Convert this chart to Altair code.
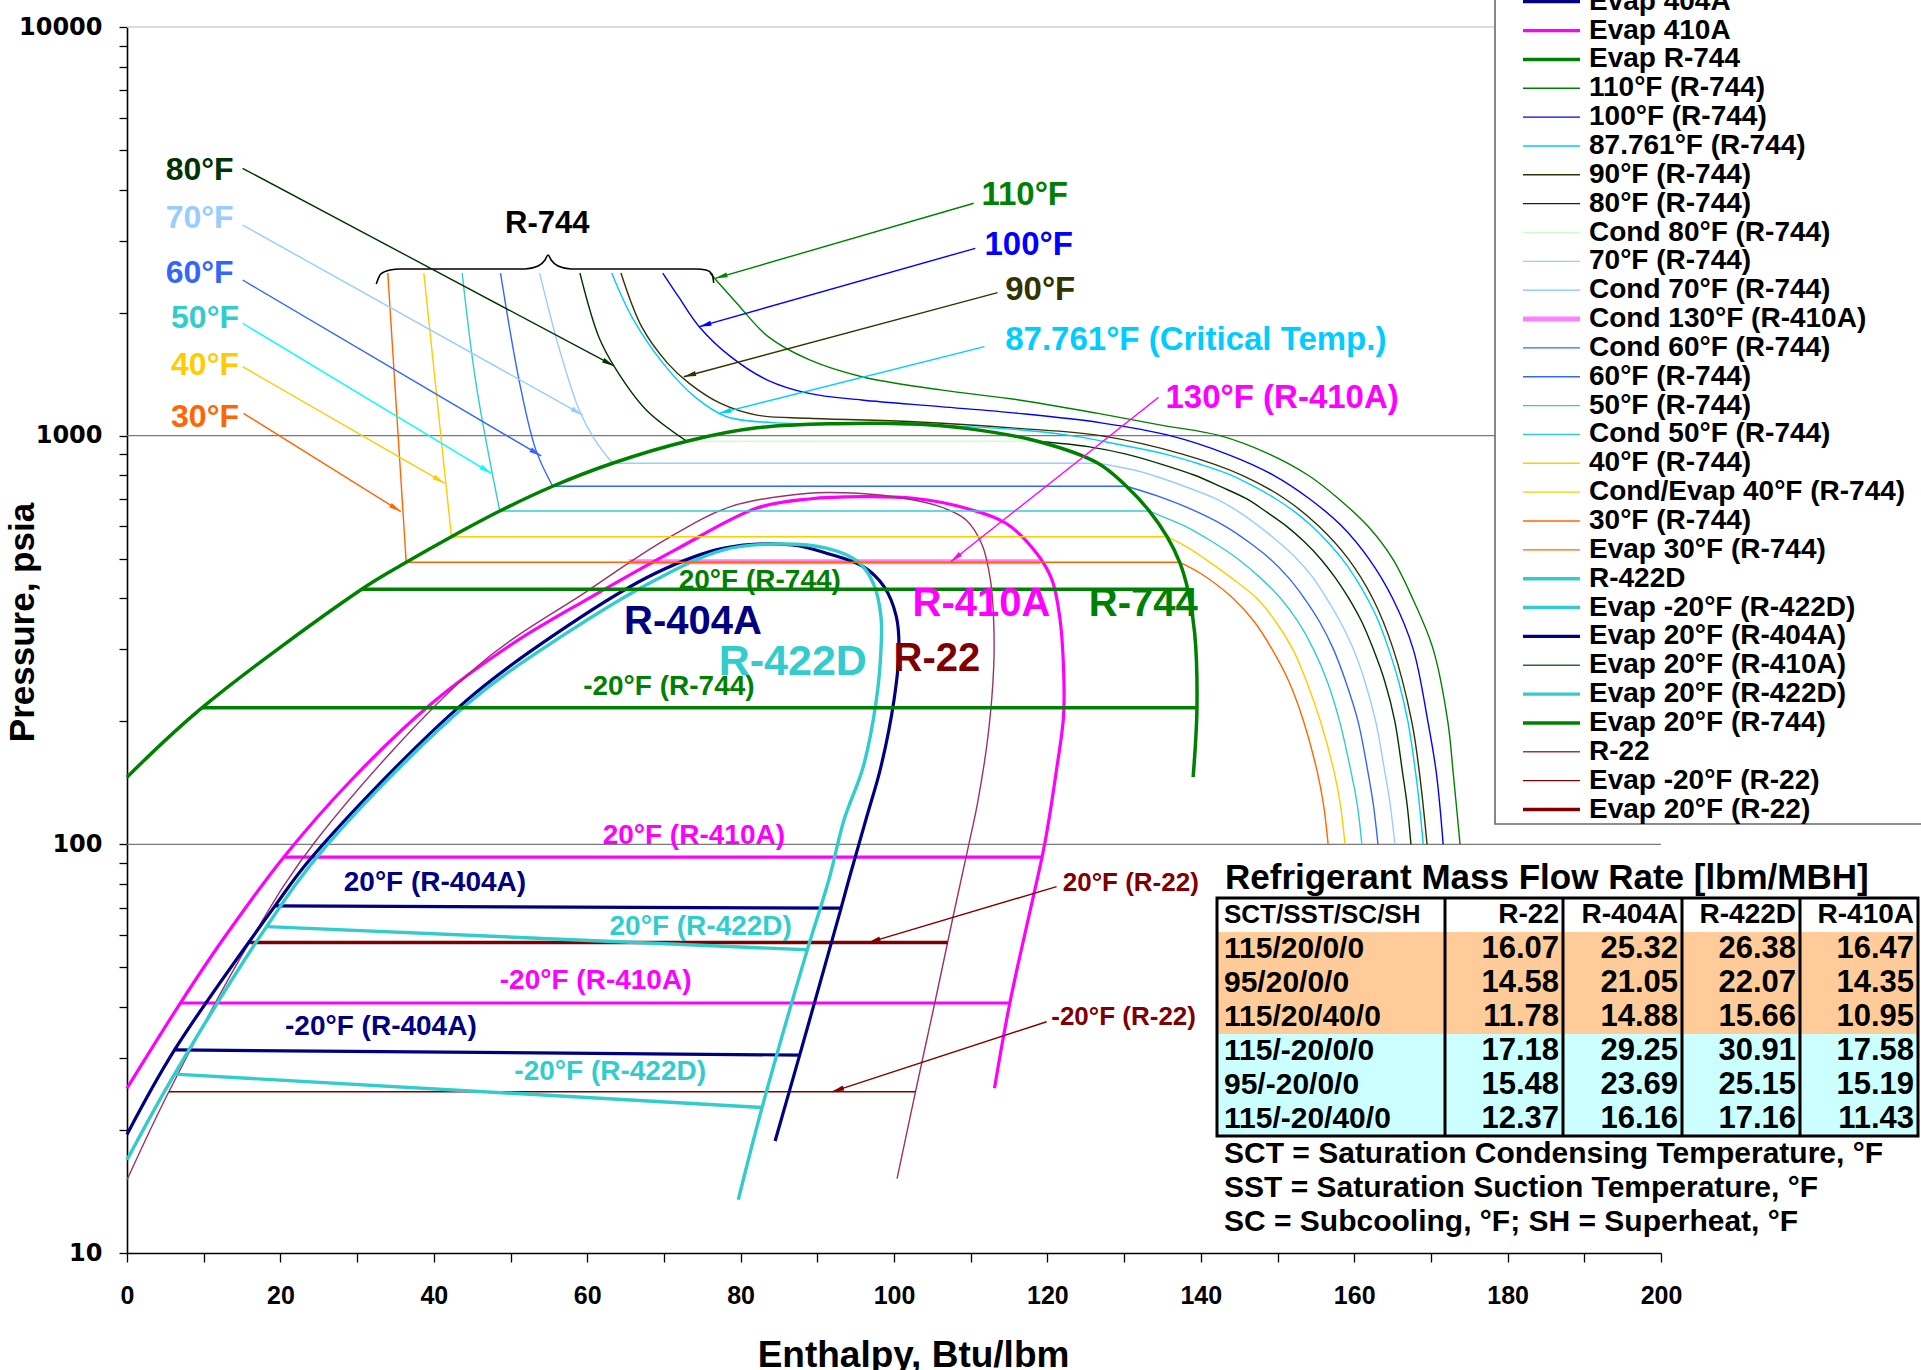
import math
import altair as alt
import pandas as pd

# ------------------------------------------------------------------
# Geometry / fonts
# ------------------------------------------------------------------
PLOT_W, PLOT_H = 1534, 1226
PAD = {"left": 127, "top": 27, "right": 260, "bottom": 117}
H_DOMAIN = [0, 200]
P_DOMAIN = [10, 10000]
SANS = "Liberation Sans, Arial, Helvetica, sans-serif"
WIDE = "DejaVu Sans, Verdana, sans-serif"

# ------------------------------------------------------------------
# Saturation domes  (enthalpy Btu/lbm, pressure psia)
# ------------------------------------------------------------------
R744_H = [0, 9.8, 30.6, 36.4, 42.3, 48.6, 55.5, 63.3, 73.0, 82.1, 92.4, 102.6, 109.4,
          118.7, 126.6, 130.3, 133.3, 135.6, 137.25, 138.3, 139.2, 139.5, 139.0]
R744_P = [146, 216, 421, 490, 566, 654, 752, 856, 969, 1045, 1070, 1068, 1042,
          969, 856, 752, 654, 566, 490, 421, 329, 216, 146]

R410A_H = [0, 6.96, 12.48, 20.43, 29.35, 39.83, 50.31, 60.21, 71.84, 82.13, 88.94, 95.76,
           102.58, 109.4, 114.6, 118.6, 120.6, 121.6, 122.1, 122.1, 121.25, 119.9, 119.3,
           115.1, 113.1]
R410A_P = [25.3, 40.9, 58.4, 93.0, 144.3, 222, 310, 400, 530, 665, 700, 709,
           702.8, 664.4, 610.5, 515.4, 443.6, 360.7, 272.1, 205.3, 155, 106.4, 93.0,
           40.9, 25.3]

R22_H = [0, 5.46, 15.95, 24.7, 45.6, 60.2, 70.1, 78.7, 88.9, 93.5, 99.9, 106.0, 109.4,
         111.5, 112.6, 113.0, 113.0, 112.3, 110.95, 109.6, 107.7, 105.4, 102.8, 100.4]
R22_P = [15.1, 24.8, 57.5, 102.5, 272, 419, 555, 670.5, 723, 725, 709, 670.5, 622,
         540, 440, 350, 272, 187, 128, 96.9, 66.5, 41.6, 24.8, 15.2]

R404A_H = [0, 6.2, 19.3, 24.1, 43.3, 57.3, 68.9, 77.7, 86.7, 91.3, 96.0, 98.7, 100.3,
           100.65, 100.0, 98.3, 96.4, 94.1, 93.1, 87.7, 84.5]
R404A_P = [19.5, 31.4, 70.7, 93.0, 217, 341, 460.7, 530, 540, 515, 478, 427, 361,
           299, 225.6, 155, 116, 81.8, 69.8, 30.5, 18.8]

R422D_H = [0, 6.2, 18.2, 25.9, 44.5, 57.3, 68.9, 77.7, 84.7, 91.3, 95.3, 97.3, 98.3,
           98.3, 97.7, 96.0, 93.5, 91.5, 88.7, 82.8, 79.7]
R422D_P = [16.9, 27.4, 62.9, 98.7, 221.4, 328.6, 443.6, 525, 543, 530, 491.6, 435.4, 361,
           299, 225.6, 155, 115, 81.8, 55.2, 22.7, 13.5]

# ------------------------------------------------------------------
# Evaporating / condensing lines (start and end points)
# ------------------------------------------------------------------
COND130_R410A_H = [65.4, 119.0]
COND130_R410A_P = [491.6, 491.6]
EVAP20_R410A_H = [20.43, 119.3]
EVAP20_R410A_P = [93.0, 93.0]
EVAPM20_R410A_H = [6.96, 115.1]
EVAPM20_R410A_P = [40.9, 40.9]
EVAP20_R22_H = [15.95, 107.0]
EVAP20_R22_P = [57.5, 57.5]
EVAPM20_R22_H = [5.46, 102.8]
EVAPM20_R22_P = [24.8, 24.8]
EVAP20_R404A_H = [19.3, 93.1]
EVAP20_R404A_P = [70.7, 69.8]
EVAPM20_R404A_H = [6.2, 87.7]
EVAPM20_R404A_P = [31.4, 30.5]
EVAP20_R422D_H = [18.2, 88.7]
EVAP20_R422D_P = [62.9, 55.2]
EVAPM20_R422D_H = [6.2, 82.8]
EVAPM20_R422D_P = [27.4, 22.7]
EVAP20_R744_H = [30.6, 138.3]
EVAP20_R744_P = [421, 421]
EVAPM20_R744_H = [9.8, 139.5]
EVAPM20_R744_P = [216, 216]
COND80_R744_H = [73.0, 118.7]
COND80_R744_P = [969, 969]
COND70_R744_H = [63.3, 126.6]
COND70_R744_P = [856, 856]
COND60_R744_H = [55.5, 130.3]
COND60_R744_P = [752, 752]
COND50_R744_H = [48.6, 133.3]
COND50_R744_P = [654, 654]
COND40_R744_H = [42.3, 135.6]
COND40_R744_P = [566, 566]
EVAP30_R744_H = [36.4, 137.25]
EVAP30_R744_P = [490, 490]

# ------------------------------------------------------------------
# R-744 isotherms: dense-liquid branch and vapour branch
# ------------------------------------------------------------------
ISO30_LIQ_H = [34.0, 36.4]
ISO30_LIQ_P = [2500, 490]
ISO30_VAP_H = [137.25, 140.0, 144.2, 147.0, 149.3, 151.5, 153.4, 155.2, 156.0, 156.6]
ISO30_VAP_P = [490, 460, 400, 350, 300, 250, 200, 150, 125, 100]

ISO40_LIQ_H = [38.7, 42.3]
ISO40_LIQ_P = [2500, 566]
ISO40_VAP_H = [135.6, 138.5, 140.5, 143.9, 147.3, 149.8, 152.0, 153.8, 155.6, 157.4, 158.2, 158.8]
ISO40_VAP_P = [566, 530, 500, 450, 400, 350, 300, 250, 200, 150, 125, 100]

ISO50_LIQ_H = [43.7, 45.5, 48.6]
ISO50_LIQ_P = [2500, 1343, 654]
ISO50_VAP_H = [133.3, 136.6, 138.0, 141.5, 144.8, 147.7, 150.4, 152.7, 154.7, 156.5, 158.1,
               159.6, 160.4, 161.0]
ISO50_VAP_P = [654, 616, 600, 550, 500, 450, 400, 350, 300, 250, 200, 150, 125, 100]

ISO60_LIQ_H = [48.7, 51.2, 53.3, 55.5]
ISO60_LIQ_P = [2500, 1343, 923, 752]
ISO60_VAP_H = [130.3, 134.6, 139.6, 143.2, 146.2, 149.0, 151.4, 153.5, 155.5, 157.3, 158.9,
               160.5, 161.8, 162.5, 163.1]
ISO60_VAP_P = [752, 709, 650, 600, 550, 500, 450, 400, 350, 300, 250, 200, 150, 125, 100]

ISO70_LIQ_H = [53.8, 56.4, 58.95, 61.0, 63.3]
ISO70_LIQ_P = [2500, 1621, 1156, 976, 856]
ISO70_VAP_H = [126.6, 131.3, 133.7, 138.0, 142.0, 145.0, 147.6, 150.1, 152.5, 154.6, 156.4,
               158.2, 159.9, 161.4, 162.8, 164.0, 164.7, 165.3]
ISO70_VAP_P = [856, 824, 800, 750, 700, 650, 600, 550, 500, 450, 400, 350, 300, 250, 200,
               150, 125, 100]

ISO80_LIQ_H = [59.05, 61.5, 63.8, 67.7, 73.0]
ISO80_LIQ_P = [2500, 1747, 1449, 1156, 969]
ISO80_VAP_H = [118.7, 125.3, 130.4, 135.0, 139.2, 142.6, 146.0, 148.6, 151.2, 153.5, 155.6,
               157.5, 159.3, 161.0, 162.5, 164.0, 165.3, 166.3, 166.9, 167.4]
ISO80_VAP_P = [969, 940, 900, 850, 800, 750, 700, 650, 600, 550, 500, 450, 400, 350, 300,
               250, 200, 150, 125, 100]

ISO87_H = [63.2, 65.8, 69.9, 74.0, 78.1, 84.2, 95.8, 109.5, 116.0, 123.1, 129.5, 135.5, 140.0,
           144.0, 147.0, 149.8, 152.3, 154.5, 156.5, 158.4, 160.1, 161.7, 163.2, 164.5, 165.8,
           167.0, 168.0, 168.5, 169.0]
ISO87_P = [2500, 1956, 1503, 1246, 1114, 1076, 1069, 1052, 1035, 1000, 950, 900, 850,
           800, 750, 700, 650, 600, 550, 500, 450, 400, 350, 300, 250,
           200, 150, 125, 100]

ISO90_H = [64.4, 67.1, 70.5, 73.3, 77.4, 82.1, 88.9, 102.6, 116.2, 126.9, 137.7, 145.4, 151.0,
           155.4, 159.2, 162.4, 165.1, 167.5, 168.5, 169.5]
ISO90_P = [2500, 1848, 1503, 1343, 1199, 1123, 1103, 1082, 1042, 1000, 900, 800, 700,
           600, 500, 400, 300, 200, 150, 100]

ISO100_H = [69.85, 71.9, 74.6, 78.7, 83.5, 88.9, 95.8, 106.0, 116.2, 127.0, 136.0, 143.5, 149.5,
            154.2, 158.4, 161.9, 165.0, 167.7, 169.6, 170.7, 171.6]
ISO100_P = [2500, 2188, 1848, 1561, 1368, 1269, 1223, 1178, 1134, 1075, 1000, 900, 800,
            700, 600, 500, 400, 300, 200, 150, 100]

ISO110_H = [76.0, 79.5, 83.6, 89.0, 95.8, 106.1, 116.3, 126.6, 135.0, 142.5, 149.0, 154.0,
            158.0, 161.8, 165.0, 167.6, 170.3, 172.2, 172.9, 173.8]
ISO110_P = [2500, 2109, 1747, 1532, 1394, 1294, 1223, 1134, 1060, 1000, 900, 800,
            700, 600, 500, 400, 300, 200, 150, 100]

# brace grouping the R-744 isotherm tops
BRACE_H = [32.5, 33.1, 34.3, 35.6, 51.9, 53.6, 54.5, 54.9, 55.3, 56.2, 57.9, 74.2, 75.5, 76.3, 76.5]
BRACE_P = [2351, 2487, 2543, 2558, 2558, 2601, 2690, 2768, 2690, 2601, 2558, 2558, 2543, 2480, 2364]

# ------------------------------------------------------------------
# Series styling (colour, line width) and legend order
# ------------------------------------------------------------------
STYLE = {
    "R-404A": ("#000080", 3.2),
    "R-410A": ("#ff00ff", 3.2),
    "Evap -20°F (R-410A)": ("#ff00ff", 3.0),
    "R-744": ("#008000", 3.5),
    "Evap 404A": ("#000080", 3.2),
    "Evap 410A": ("#ff00ff", 3.2),
    "Evap R-744": ("#008000", 3.5),
    "110°F (R-744)": ("#008000", 1.4),
    "100°F (R-744)": ("#0000ff", 1.4),
    "87.761°F (R-744)": ("#00ccff", 1.4),
    "90°F (R-744)": ("#333300", 1.4),
    "80°F (R-744)": ("#003300", 1.4),
    "Cond 80°F (R-744)": ("#ccffcc", 1.4),
    "70°F (R-744)": ("#99ccff", 1.4),
    "Cond 70°F (R-744)": ("#99ccff", 1.4),
    "Cond 130°F (R-410A)": ("#ff80ff", 5.0),
    "Cond 60°F (R-744)": ("#3366ff", 1.4),
    "60°F (R-744)": ("#3366ff", 1.4),
    "50°F (R-744)": ("#33cccc", 1.4),
    "Cond 50°F (R-744)": ("#33cccc", 1.4),
    "40°F (R-744)": ("#ffcc00", 1.4),
    "Cond/Evap 40°F (R-744)": ("#ffcc00", 1.4),
    "30°F (R-744)": ("#ff6600", 1.4),
    "Evap 30°F (R-744)": ("#ff6600", 1.4),
    "R-422D": ("#33cccc", 3.4),
    "Evap -20°F (R-422D)": ("#33cccc", 3.4),
    "Evap 20°F (R-404A)": ("#000080", 3.2),
    "Evap 20°F (R-410A)": ("#336633", 1.4),
    "Evap 20°F (R-422D)": ("#33cccc", 3.4),
    "Evap 20°F (R-744)": ("#008000", 3.5),
    "R-22": ("#993366", 1.4),
    "Evap -20°F (R-22)": ("#800000", 1.4),
    "Evap 20°F (R-22)": ("#800000", 3.4),
}
LEGEND_ORDER = list(STYLE.keys())

# ------------------------------------------------------------------
# Annotations
# ------------------------------------------------------------------
TEMP_LABELS_L = ["80°F", "70°F", "60°F", "50°F", "40°F", "30°F"]
TEMP_LABELS_L_H = [13.9, 13.9, 13.9, 14.6, 14.6, 14.6]
TEMP_LABELS_L_P = [4460, 3405, 2497, 1937, 1489, 1113]

TEMP_LABELS_R = ["110°F", "100°F", "90°F", "87.761°F (Critical Temp.)", "130°F (R-410A)"]
TEMP_LABELS_R_H = [111.4, 111.8, 114.5, 114.5, 135.4]
TEMP_LABELS_R_P = [3882, 2929, 2273, 1715, 1235]

R22_LABELS = ["20°F (R-22)", "-20°F (R-22)"]
R22_LABELS_H = [122.0, 120.5]
R22_LABELS_P = [80.4, 37.9]

NAME_LABELS = ["R-404A", "R-422D", "R-410A", "R-744", "R-22"]
NAME_LABELS_H = [73.8, 86.8, 111.4, 132.5, 105.6]
NAME_LABELS_P = [349, 280, 388, 388, 284]
NAME_LABEL_SIZES = [40, 43, 40, 40, 40]

LINE_LABELS = ["20°F (R-744)", "-20°F (R-744)", "20°F (R-410A)", "20°F (R-404A)",
               "20°F (R-422D)", "-20°F (R-410A)", "-20°F (R-404A)", "-20°F (R-422D)"]
LINE_LABELS_H = [82.5, 70.65, 73.9, 40.15, 74.8, 61.1, 33.1, 63.0]
LINE_LABELS_P = [442, 242, 105, 80.3, 62.7, 46.2, 35.8, 27.7]

BRACE_LABEL_H, BRACE_LABEL_P = 54.8, 3292

# leader arrows: start (h, P) -> tip (h, P)
ARROW_H0 = [15.07, 15.07, 15.07, 15.07, 15.07, 15.18, 110.4, 110.6, 113.5, 111.8, 134.5, 121.2, 119.9]
ARROW_P0 = [4511, 3277, 2404, 1884, 1475, 1134, 3704, 2874, 2239, 1651, 1242, 78.8, 36.8]
ARROW_H1 = [63.5, 59.4, 54.0, 47.5, 41.4, 35.7, 76.7, 74.6, 72.6, 77.2, 107.4, 96.65, 91.9]
ARROW_P1 = [1481, 1124, 892, 809, 765, 652, 2427, 1848, 1394, 1134, 491.6, 57.5, 24.8]
ARROW_COLORS = ["#003300", "#99ccff", "#3366ff", "#00ffff", "#ffcc00", "#ff6600", "#008000",
                "#0000ff", "#333300", "#00ccff", "#ff00ff", "#800000", "#800000"]

LABEL_COLORS = {
    "80°F": "#003300", "70°F": "#99ccff", "60°F": "#3366ff", "50°F": "#33cccc",
    "40°F": "#ffcc00", "30°F": "#ff6600", "110°F": "#008000", "100°F": "#0000ff",
    "90°F": "#333300", "87.761°F (Critical Temp.)": "#00ccff", "130°F (R-410A)": "#ff00ff",
    "20°F (R-22)": "#800000", "-20°F (R-22)": "#800000",
    "R-404A": "#000080", "R-422D": "#33cccc", "R-410A": "#ff00ff", "R-744": "#008000",
    "R-22": "#800000",
    "20°F (R-744)": "#008000", "-20°F (R-744)": "#008000", "20°F (R-410A)": "#ff00ff",
    "20°F (R-404A)": "#000080", "20°F (R-422D)": "#33cccc", "-20°F (R-410A)": "#ff00ff",
    "-20°F (R-404A)": "#000080", "-20°F (R-422D)": "#33cccc",
}

# ------------------------------------------------------------------
# Mass-flow table
# ------------------------------------------------------------------
TABLE_TITLE = "Refrigerant Mass Flow Rate [lbm/MBH]"
TABLE_HEAD = "SCT/SST/SC/SH"
TABLE_CONDITIONS = ["115/20/0/0", "95/20/0/0", "115/20/40/0",
                    "115/-20/0/0", "95/-20/0/0", "115/-20/40/0"]
TABLE_REFRIGERANTS = ["R-22", "R-404A", "R-422D", "R-410A"]
FLOW_R22 = [16.07, 14.58, 11.78, 17.18, 15.48, 12.37]
FLOW_R404A = [25.32, 21.05, 14.88, 29.25, 23.69, 16.16]
FLOW_R422D = [26.38, 22.07, 15.66, 30.91, 25.15, 17.16]
FLOW_R410A = [16.47, 14.35, 10.95, 17.58, 15.19, 11.43]
FOOTNOTES = ["SCT = Saturation Condensing Temperature, °F",
             "SST = Saturation Suction Temperature, °F",
             "SC = Subcooling, °F;  SH = Superheat, °F"]

# ------------------------------------------------------------------
# Build the line table
# ------------------------------------------------------------------
rows = []


def add_path(series, key, hs, ps):
    for i, (h, p) in enumerate(zip(hs, ps)):
        rows.append({"series": series, "key": key, "i": i, "h": h, "P": p})


add_path("Cond 130°F (R-410A)", "cond130", COND130_R410A_H, COND130_R410A_P)
add_path("R-410A", "dome410", R410A_H, R410A_P)
add_path("Evap 410A", "e20_410", EVAP20_R410A_H, EVAP20_R410A_P)
add_path("Evap -20°F (R-410A)", "em20_410", EVAPM20_R410A_H, EVAPM20_R410A_P)
add_path("R-22", "dome22", R22_H, R22_P)
add_path("Evap 20°F (R-22)", "e20_22", EVAP20_R22_H, EVAP20_R22_P)
add_path("Evap -20°F (R-22)", "em20_22", EVAPM20_R22_H, EVAPM20_R22_P)
add_path("R-404A", "dome404", R404A_H, R404A_P)
add_path("Evap 20°F (R-404A)", "e20_404", EVAP20_R404A_H, EVAP20_R404A_P)
add_path("Evap 404A", "em20_404", EVAPM20_R404A_H, EVAPM20_R404A_P)
add_path("R-422D", "dome422", R422D_H, R422D_P)
add_path("Evap 20°F (R-422D)", "e20_422", EVAP20_R422D_H, EVAP20_R422D_P)
add_path("Evap -20°F (R-422D)", "em20_422", EVAPM20_R422D_H, EVAPM20_R422D_P)
add_path("Cond 80°F (R-744)", "c80", COND80_R744_H, COND80_R744_P)
add_path("Cond 70°F (R-744)", "c70", COND70_R744_H, COND70_R744_P)
add_path("Cond 60°F (R-744)", "c60", COND60_R744_H, COND60_R744_P)
add_path("Cond 50°F (R-744)", "c50", COND50_R744_H, COND50_R744_P)
add_path("Cond/Evap 40°F (R-744)", "c40", COND40_R744_H, COND40_R744_P)
add_path("Evap 30°F (R-744)", "c30", EVAP30_R744_H, EVAP30_R744_P)
add_path("Evap 20°F (R-744)", "e20_744", EVAP20_R744_H, EVAP20_R744_P)
add_path("Evap R-744", "em20_744", EVAPM20_R744_H, EVAPM20_R744_P)
add_path("110°F (R-744)", "t110", ISO110_H, ISO110_P)
add_path("100°F (R-744)", "t100", ISO100_H, ISO100_P)
add_path("90°F (R-744)", "t90", ISO90_H, ISO90_P)
add_path("87.761°F (R-744)", "t87", ISO87_H, ISO87_P)
add_path("80°F (R-744)", "t80l", ISO80_LIQ_H, ISO80_LIQ_P)
add_path("80°F (R-744)", "t80v", ISO80_VAP_H, ISO80_VAP_P)
add_path("70°F (R-744)", "t70l", ISO70_LIQ_H, ISO70_LIQ_P)
add_path("70°F (R-744)", "t70v", ISO70_VAP_H, ISO70_VAP_P)
add_path("60°F (R-744)", "t60l", ISO60_LIQ_H, ISO60_LIQ_P)
add_path("60°F (R-744)", "t60v", ISO60_VAP_H, ISO60_VAP_P)
add_path("50°F (R-744)", "t50l", ISO50_LIQ_H, ISO50_LIQ_P)
add_path("50°F (R-744)", "t50v", ISO50_VAP_H, ISO50_VAP_P)
add_path("40°F (R-744)", "t40l", ISO40_LIQ_H, ISO40_LIQ_P)
add_path("40°F (R-744)", "t40v", ISO40_VAP_H, ISO40_VAP_P)
add_path("30°F (R-744)", "t30l", ISO30_LIQ_H, ISO30_LIQ_P)
add_path("30°F (R-744)", "t30v", ISO30_VAP_H, ISO30_VAP_P)
add_path("R-744", "dome744", R744_H, R744_P)

lines_df = pd.DataFrame(rows)
lines_df["color"] = lines_df["series"].map(lambda s: STYLE[s][0])
lines_df["w"] = lines_df["series"].map(lambda s: STYLE[s][1])

# ------------------------------------------------------------------
# Shared scales and axes
# ------------------------------------------------------------------
X_AXIS = alt.Axis(
    values=list(range(0, 201, 10)),
    labelExpr="datum.value % 20 === 0 ? datum.label : ''",
    format="d", grid=False, tickSize=9, tickWidth=1.3, tickColor="black",
    domainColor="black", domainWidth=1.6, labelFont=SANS, labelFontWeight="bold",
    labelFontSize=25, labelColor="black", labelPadding=21, labelOverlap=False,
    labelFlush=False, labelBound=False,
    title="Enthalpy, Btu/lbm", titleFont=SANS, titleFontWeight="bold", titleFontSize=37,
    titleColor="black", titleX=786, titleY=102, titleBaseline="middle", titleAlign="center",
)
Y_TICKS = [d * 10 ** e for e in range(1, 4) for d in range(1, 10)] + [10000]
Y_AXIS = alt.Axis(
    values=Y_TICKS,
    labelExpr="indexof([10, 100, 1000, 10000], datum.value) >= 0 ? datum.label : ''",
    format="d", grid=False, tickSize=8, tickWidth=1.3, tickColor="black",
    domainColor="black", domainWidth=1.6, labelFont=WIDE, labelFontWeight="bold",
    labelFontSize=24, labelColor="black", labelPadding=17, labelOverlap=False,
    labelFlush=False, labelBound=False,
    title="Pressure, psia", titleFont=SANS, titleFontWeight="bold", titleFontSize=35,
    titleColor="black", titleAngle=270, titleX=-105, titleY=595,
    titleBaseline="middle", titleAlign="center",
)
X = alt.X("h:Q", scale=alt.Scale(domain=H_DOMAIN, nice=False, zero=False), axis=X_AXIS)
Y = alt.Y("P:Q", scale=alt.Scale(type="log", domain=P_DOMAIN, nice=False), axis=Y_AXIS)
C_ID = alt.Color("color:N", scale=None)

# ------------------------------------------------------------------
# Plot layers
# ------------------------------------------------------------------
grid_df = pd.DataFrame({"P": [100, 1000, 10000], "color": ["#7a7a7a", "#7a7a7a", "#d0d0d0"]})
grid = alt.Chart(grid_df).mark_rule(strokeWidth=1.3).encode(y=Y, color=C_ID)

curves = alt.Chart(lines_df).mark_line(interpolate="catmull-rom").encode(
    x=X, y=Y, color=C_ID,
    strokeWidth=alt.StrokeWidth("w:Q", scale=None),
    detail="key:N", order="i:Q",
)

brace_df = pd.DataFrame({"h": BRACE_H, "P": BRACE_P})
brace = alt.Chart(brace_df).mark_line(interpolate="monotone", color="black", strokeWidth=1.6).encode(
    x=X, y=Y)

PX_PER_H = PLOT_W / (H_DOMAIN[1] - H_DOMAIN[0])
PX_PER_DECADE = PLOT_H / 3.0


def head_angle(h0, p0, h1, p1):
    dx = (h1 - h0) * PX_PER_H
    dy = -(math.log10(p1) - math.log10(p0)) * PX_PER_DECADE
    return math.degrees(math.atan2(dx, -dy)) % 360


arrow_df = pd.DataFrame({"h": ARROW_H0, "P": ARROW_P0, "h2": ARROW_H1, "P2": ARROW_P1,
                         "color": ARROW_COLORS})
arrows = alt.Chart(arrow_df).mark_rule(strokeWidth=1.4).encode(
    x=X, y=Y, x2="h2:Q", y2="P2:Q", color=C_ID)

head_df = pd.DataFrame({
    "h": ARROW_H1, "P": ARROW_P1, "color": ARROW_COLORS,
    "ang": [head_angle(a, b, c, d) for a, b, c, d in zip(ARROW_H0, ARROW_P0, ARROW_H1, ARROW_P1)],
})
heads = alt.Chart(head_df).mark_point(
    shape="M0,0L0.42,2L-0.42,2Z", filled=True, size=150, opacity=1, strokeWidth=0
).encode(x=X, y=Y, color=C_ID, angle=alt.Angle("ang:Q", scale=None))


def label_frame(texts, hs, ps, sizes, colors=None):
    return pd.DataFrame({"t": texts, "h": hs, "P": ps, "fs": sizes,
                         "color": colors or [LABEL_COLORS[t] for t in texts]})


def text_layer(df, align):
    return alt.Chart(df).mark_text(
        font=SANS, fontWeight="bold", align=align, baseline="middle"
    ).encode(x=X, y=Y, text="t:N", color=C_ID, size=alt.Size("fs:Q", scale=None))


t_left_temps = text_layer(label_frame(TEMP_LABELS_L, TEMP_LABELS_L_H, TEMP_LABELS_L_P,
                                      [32] * 6), "right")
t_right_temps = text_layer(label_frame(TEMP_LABELS_R, TEMP_LABELS_R_H, TEMP_LABELS_R_P,
                                       [33] * 5), "left")
t_r22 = text_layer(label_frame(R22_LABELS, R22_LABELS_H, R22_LABELS_P, [26] * 2), "left")
t_names = text_layer(label_frame(NAME_LABELS, NAME_LABELS_H, NAME_LABELS_P, NAME_LABEL_SIZES),
                     "center")
t_lines = text_layer(label_frame(LINE_LABELS, LINE_LABELS_H, LINE_LABELS_P, [28] * 8), "center")
t_brace = text_layer(label_frame(["R-744"], [BRACE_LABEL_H], [BRACE_LABEL_P], [31], ["black"]),
                     "center")

# ------------------------------------------------------------------
# Overlays placed in screen space: the mass-flow table and the legend
# ------------------------------------------------------------------
XI = alt.X("px:Q", scale=None, axis=None)
YI = alt.Y("py:Q", scale=None, axis=None)

# table layout (pixels, relative to the plot area)
TBL_COL_EDGES = [1090, 1318, 1436, 1555, 1673, 1791]
TBL_TOP, TBL_HEAD_H, TBL_ROW_H = 871, 34, 34
TBL_TEXT_INSET = 7
TBL_TITLE_Y = 851
TBL_NOTE_Y0, TBL_NOTE_STEP = 1127, 34

row_y = [TBL_TOP + TBL_HEAD_H + TBL_ROW_H * (k + 0.5) for k in range(6)]
head_y = TBL_TOP + TBL_HEAD_H / 2
tbl_bottom = TBL_TOP + TBL_HEAD_H + 6 * TBL_ROW_H
mid_split = TBL_TOP + TBL_HEAD_H + 3 * TBL_ROW_H

bg_df = pd.DataFrame({
    "px": [TBL_COL_EDGES[0]] * 2, "px2": [TBL_COL_EDGES[-1]] * 2,
    "py": [TBL_TOP + TBL_HEAD_H, mid_split], "py2": [mid_split, tbl_bottom],
    "color": ["#ffcc99", "#ccffff"],
})
table_bg = alt.Chart(bg_df).mark_rect().encode(
    x=XI, x2="px2:Q", y=YI, y2="py2:Q", color=C_ID)

frame_df = pd.DataFrame({"px": [TBL_COL_EDGES[0]], "px2": [TBL_COL_EDGES[-1]],
                         "py": [TBL_TOP], "py2": [tbl_bottom]})
table_frame = alt.Chart(frame_df).mark_rect(
    fillOpacity=0, stroke="black", strokeWidth=3).encode(x=XI, x2="px2:Q", y=YI, y2="py2:Q")

div_df = pd.DataFrame({"px": TBL_COL_EDGES[1:-1], "py": [TBL_TOP] * 4, "py2": [tbl_bottom] * 4})
table_divs = alt.Chart(div_df).mark_rule(color="black", strokeWidth=3).encode(
    x=XI, y=YI, y2="py2:Q")

left_df = pd.DataFrame({
    "t": [TABLE_HEAD] + TABLE_CONDITIONS,
    "px": [TBL_COL_EDGES[0] + TBL_TEXT_INSET] * 7,
    "py": [head_y] + row_y,
    "fs": [26] + [30] * 6,
})
flows = [FLOW_R22, FLOW_R404A, FLOW_R422D, FLOW_R410A]
num_rows = []
for c, (name, vals) in enumerate(zip(TABLE_REFRIGERANTS, flows)):
    x_right = TBL_COL_EDGES[c + 2] - 4
    num_rows.append({"t": name, "px": x_right, "py": head_y, "fs": 28})
    for r, v in enumerate(vals):
        num_rows.append({"t": f"{v:.2f}", "px": x_right, "py": row_y[r], "fs": 31})
num_df = pd.DataFrame(num_rows)

table_left_text = alt.Chart(left_df).mark_text(
    font=SANS, fontWeight="bold", align="left", baseline="middle", color="black"
).encode(x=XI, y=YI, text="t:N", size=alt.Size("fs:Q", scale=None))
table_num_text = alt.Chart(num_df).mark_text(
    font=SANS, fontWeight="bold", align="right", baseline="middle", color="black"
).encode(x=XI, y=YI, text="t:N", size=alt.Size("fs:Q", scale=None))

title_df = pd.DataFrame({"t": [TABLE_TITLE], "px": [TBL_COL_EDGES[0] + 8], "py": [TBL_TITLE_Y]})
table_title = alt.Chart(title_df).mark_text(
    font=SANS, fontWeight="bold", fontSize=35, align="left", baseline="middle", color="black"
).encode(x=XI, y=YI, text="t:N")

note_df = pd.DataFrame({
    "t": FOOTNOTES,
    "px": [TBL_COL_EDGES[0] + TBL_TEXT_INSET] * 3,
    "py": [TBL_NOTE_Y0 + k * TBL_NOTE_STEP for k in range(3)],
})
table_notes = alt.Chart(note_df).mark_text(
    font=SANS, fontWeight="bold", fontSize=30, align="left", baseline="middle", color="black"
).encode(x=XI, y=YI, text="t:N")

# legend panel (its upper entries run off the top edge)
LEG_LEFT, LEG_RIGHT, LEG_BOTTOM = 1368, 1810, 797
LEG_ROW0_Y, LEG_ROW_STEP = -140.7, 28.85
LEG_SYM_X0, LEG_SYM_X1, LEG_TEXT_X = 1396, 1453, 1462

leg_box_df = pd.DataFrame({"px": [LEG_LEFT], "px2": [LEG_RIGHT], "py": [-200], "py2": [LEG_BOTTOM]})
legend_box = alt.Chart(leg_box_df).mark_rect(
    fill="white", stroke="#6a6a6a", strokeWidth=1.6).encode(x=XI, x2="px2:Q", y=YI, y2="py2:Q")

leg_df = pd.DataFrame({
    "t": LEGEND_ORDER,
    "px": [LEG_SYM_X0] * len(LEGEND_ORDER),
    "px2": [LEG_SYM_X1] * len(LEGEND_ORDER),
    "tx": [LEG_TEXT_X] * len(LEGEND_ORDER),
    "py": [LEG_ROW0_Y + k * LEG_ROW_STEP for k in range(len(LEGEND_ORDER))],
    "color": [STYLE[s][0] for s in LEGEND_ORDER],
    "w": [STYLE[s][1] for s in LEGEND_ORDER],
})
legend_syms = alt.Chart(leg_df).mark_rule().encode(
    x=XI, x2="px2:Q", y=YI, color=C_ID, strokeWidth=alt.StrokeWidth("w:Q", scale=None))
legend_text = alt.Chart(leg_df).mark_text(
    font=SANS, fontWeight="bold", fontSize=28, align="left", baseline="middle", color="black"
).encode(x=alt.X("tx:Q", scale=None, axis=None), y=YI, text="t:N")

chart = alt.layer(
    grid, curves, brace, arrows, heads,
    t_left_temps, t_right_temps, t_r22, t_names, t_lines, t_brace,
    table_bg, table_frame, table_divs, table_left_text, table_num_text, table_title, table_notes,
    legend_box, legend_syms, legend_text,
).properties(
    width=PLOT_W, height=PLOT_H,
    autosize=alt.AutoSizeParams(type="none"),
    padding=PAD,
).configure_view(stroke=None)

chart.save("out.html", embed_options={"renderer": "svg", "actions": False})
